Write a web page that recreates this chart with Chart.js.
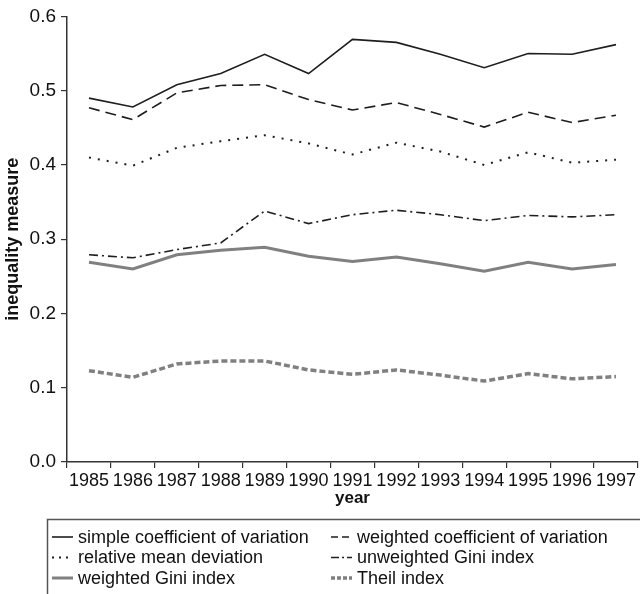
<!DOCTYPE html>
<html>
<head>
<meta charset="utf-8">
<script src="https://cdn.jsdelivr.net/npm/chart.js@4.4.1/dist/chart.umd.min.js"></script>
<style>
  html, body { margin: 0; padding: 0; background: #fff; }
  #wrap { width: 640px; height: 594px; position: relative; }
</style>
</head>
<body>
<div id="wrap"><canvas id="myChart"></canvas></div>
<script>
const years = ['1985', '1986', '1987', '1988', '1989', '1990', '1991', '1992', '1993', '1994', '1995', '1996', '1997'];

const simpleCV      = [0.490, 0.478, 0.508, 0.523, 0.549, 0.523, 0.569, 0.565, 0.549, 0.531, 0.550, 0.549, 0.562];
const weightedCV    = [0.477, 0.461, 0.497, 0.507, 0.508, 0.488, 0.474, 0.484, 0.468, 0.451, 0.471, 0.457, 0.467];
const relMeanDev    = [0.410, 0.399, 0.423, 0.432, 0.440, 0.429, 0.414, 0.430, 0.418, 0.400, 0.417, 0.403, 0.407];
const unweightedGini = [0.279, 0.275, 0.286, 0.295, 0.338, 0.321, 0.333, 0.339, 0.333, 0.325, 0.332, 0.330, 0.333];
const weightedGini  = [0.269, 0.260, 0.279, 0.285, 0.289, 0.277, 0.270, 0.276, 0.267, 0.257, 0.269, 0.260, 0.266];
const theil         = [0.123, 0.114, 0.132, 0.136, 0.136, 0.124, 0.118, 0.124, 0.117, 0.109, 0.119, 0.112, 0.115];

const yTicks = [0, 0.1, 0.2, 0.3, 0.4, 0.5, 0.6];

const FONT = '"Liberation Sans", Arial, Helvetica, sans-serif';
const dark = '#1e1e1e';
const grey = '#808080';

// short dash patterns used for the little legend samples
const legendDashes = [[], [7, 4], [2, 5], [8, 3, 2, 3], [], [4, 2]];

function line(label, data, color, width, dash) {
  return {
    label: label,
    data: data,
    borderColor: color,
    backgroundColor: color,
    borderWidth: width,
    borderDash: dash,
    pointRadius: 0,
    fill: false,
    tension: 0
  };
}

// legend drawn in a box under the chart, two columns
const boxLegend = {
  id: 'boxLegend',
  afterDraw(chart) {
    const ctx = chart.ctx;
    ctx.save();
    ctx.strokeStyle = '#555';
    ctx.lineWidth = 1.5;
    ctx.strokeRect(47.5, 519.5, 640, 100);
    chart.data.datasets.forEach((ds, i) => {
      const x = (i % 2) ? 331 : 52;
      const y = 537 + Math.floor(i / 2) * 20.5;
      ctx.strokeStyle = ds.borderColor;
      ctx.lineWidth = ds.borderWidth;
      ctx.setLineDash(legendDashes[i]);
      ctx.beginPath();
      ctx.moveTo(x, y);
      ctx.lineTo(x + 21, y);
      ctx.stroke();
      ctx.setLineDash([]);
      ctx.fillStyle = '#111';
      ctx.font = '18px ' + FONT;
      ctx.textBaseline = 'middle';
      ctx.fillText(ds.label, x + 26, y + 1);
    });
    ctx.restore();
  }
};

const data = {
  labels: years,
  datasets: [
    line('simple coefficient of variation', simpleCV, dark, 1.6, []),
    line('weighted coefficient of variation', weightedCV, dark, 1.6, [11, 6]),
    line('relative mean deviation', relMeanDev, dark, 2, [2, 7]),
    line('unweighted Gini index', unweightedGini, dark, 1.6, [9, 4, 2, 4]),
    line('weighted Gini index', weightedGini, grey, 3, []),
    line('Theil index', theil, grey, 3.5, [6, 3])
  ]
};

const config = {
  type: 'line',
  data: data,
  plugins: [boxLegend],
  options: {
    responsive: true,
    maintainAspectRatio: false,
    animation: false,
    layout: { padding: { top: 8, right: 0, bottom: 87, left: 2 } },
    plugins: {
      legend: { display: false },
      tooltip: { enabled: false }
    },
    scales: {
      x: {
        offset: true,
        grid: { offset: true, drawOnChartArea: false, drawTicks: true, tickLength: 6, color: '#333', lineWidth: 1.2 },
        border: { color: '#333', width: 1.5 },
        ticks: { color: '#111', font: { family: FONT, size: 18, lineHeight: 1 }, padding: 4, maxRotation: 0, autoSkip: false },
        title: { display: true, text: 'year', color: '#111', font: { family: FONT, size: 17, weight: 'bold', lineHeight: 1 }, padding: { top: -4, bottom: 0 } }
      },
      y: {
        min: 0,
        max: 0.6,
        afterBuildTicks: (axis) => { axis.ticks = yTicks.map(v => ({ value: v })); },
        grid: { drawOnChartArea: false, drawTicks: true, tickLength: 6, color: '#333', lineWidth: 1.2 },
        border: { color: '#333', width: 1.5 },
        ticks: { color: '#111', font: { family: FONT, size: 19 }, padding: 5, callback: (v) => Number(v).toFixed(1) },
        title: { display: true, text: 'inequality measure', color: '#111', font: { family: FONT, size: 18, weight: 'bold' }, padding: { top: 0, bottom: 1 } }
      }
    }
  }
};

const myChart = document.getElementById('myChart');
const chart = new Chart(myChart, config);
</script>
</body>
</html>
